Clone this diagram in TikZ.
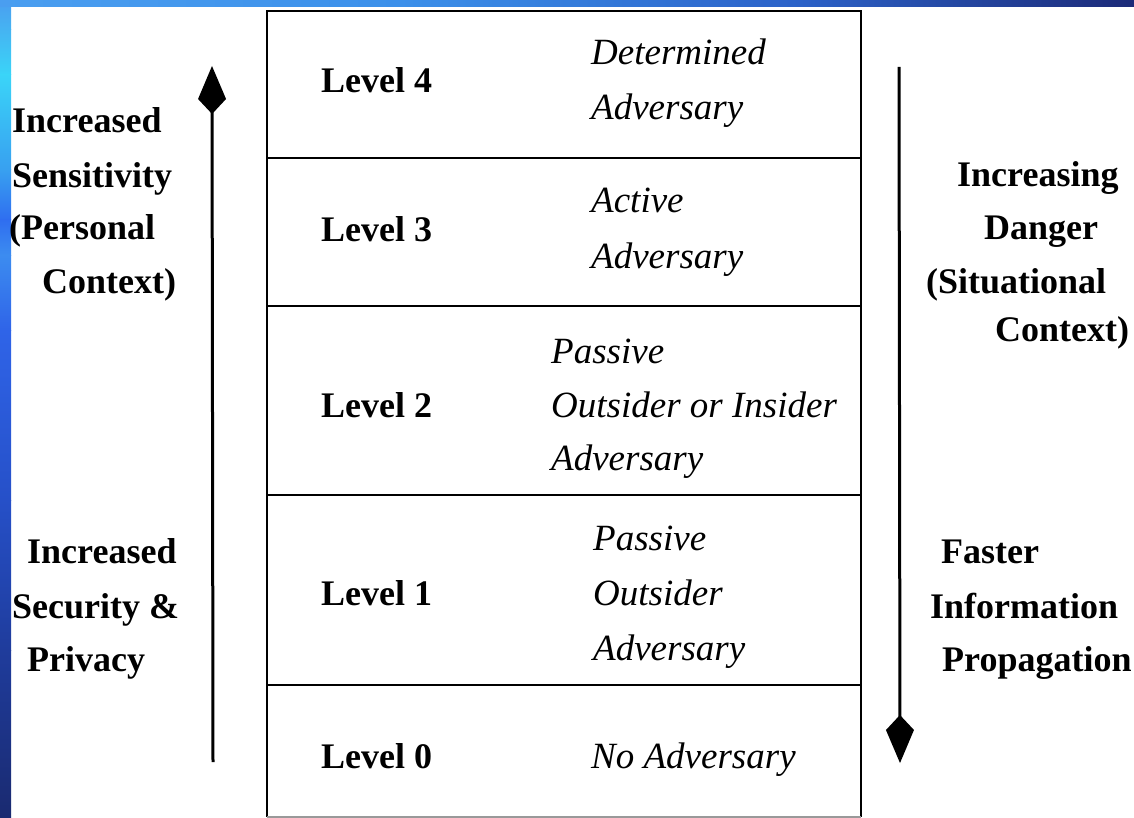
\documentclass[tikz,border=0pt]{standalone}
\usepackage{fontspec}
\setmainfont{Liberation Serif}
\usetikzlibrary{arrows.meta}
\definecolor{sA}{HTML}{4A9EF0}
\definecolor{sB}{HTML}{45B4F2}
\definecolor{sC}{HTML}{3AD4F8}
\definecolor{sD}{HTML}{38A0F0}
\definecolor{sE}{HTML}{2F6EF0}
\definecolor{sF}{HTML}{3C8CF0}
\definecolor{sG}{HTML}{2F64E8}
\definecolor{sH}{HTML}{2650C8}
\definecolor{sI}{HTML}{1F3C9C}
\definecolor{sJ}{HTML}{1A2A70}
\definecolor{tA}{HTML}{4A9EF0}
\definecolor{tB}{HTML}{3C90EA}
\definecolor{tC}{HTML}{2C62C8}
\definecolor{tD}{HTML}{1C2A78}
\begin{document}
\begin{tikzpicture}[x=1pt,y=-1pt,
  lab/.style={font=\fontsize{36}{40}\selectfont\bfseries, anchor=base west, inner sep=0pt},
  adv/.style={font=\fontsize{37}{40}\selectfont\itshape, anchor=base west, inner sep=0pt},
  grid/.style={line width=2.5pt, black},
  trend/.style={line width=3pt, -{Kite[length=48pt,width=28pt,inset=15pt]}}]
\useasboundingbox (0,0) rectangle (1134,818);
% blue frame
\shade[top color=sA, bottom color=sB] (0,0) rectangle (11,30);
\shade[top color=sB, bottom color=sC] (0,30) rectangle (11,75);
\shade[top color=sC, bottom color=sD] (0,75) rectangle (11,170);
\shade[top color=sD, bottom color=sE] (0,170) rectangle (11,220);
\shade[top color=sE, bottom color=sF] (0,220) rectangle (11,255);
\shade[top color=sF, bottom color=sG] (0,255) rectangle (11,330);
\shade[top color=sG, bottom color=sH] (0,330) rectangle (11,500);
\shade[top color=sH, bottom color=sI] (0,500) rectangle (11,650);
\shade[top color=sI, bottom color=sJ] (0,650) rectangle (11,818);
\shade[left color=tA, right color=tB] (0,0) rectangle (400,7);
\shade[left color=tB, right color=tC] (400,0) rectangle (800,7);
\shade[left color=tC, right color=tD] (800,0) rectangle (1134,7);
% table
\draw[grid] (267,817) -- (267,11) -- (861,11) -- (861,817);
\draw[line width=1.5pt, black!40] (267,817) -- (861,817);
\foreach \yy in {158,306,495,685} \draw[grid] (267,\yy) -- (861,\yy);
% levels
\node[lab] (l4) at (321,93) {Level 4};
\node[lab] (l3) at (321,241) {Level 3};
\node[lab] (l2) at (321,417) {Level 2};
\node[lab] (l1) at (321,605) {Level 1};
\node[lab] (l0) at (321,768) {Level 0};
% adversaries
\node[adv] (d4a) at (591,65) {Determined};
\node[adv] (d4b) at (591,120) {Adversary};
\node[adv] (d3a) at (591,213) {Active};
\node[adv] (d3b) at (591,268) {Adversary};
\node[adv] (d2a) at (551,363) {Passive};
\node[adv] (d2b) at (551,417) {Outsider or Insider};
\node[adv] (d2c) at (551,470) {Adversary};
\node[adv] (d1a) at (593,550) {Passive};
\node[adv] (d1b) at (593,605) {Outsider};
\node[adv] (d1c) at (593,660) {Adversary};
\node[adv] (d0) at (591,768) {No Adversary};
% left labels
\node[lab] (pl1) at (12,133) {Increased};
\node[lab] (pl2) at (12,188) {Sensitivity};
\node[lab] (pl3) at (9,240) {(Personal};
\node[lab] (pl4) at (42,293) {Context)};
\node[lab] (sl1) at (27,563) {Increased};
\node[lab] (sl2) at (12,618) {Security \&};
\node[lab] (sl3) at (27,671) {Privacy};
% right labels
\node[lab] (dr1) at (957,187) {Increasing};
\node[lab] (dr2) at (984,240) {Danger};
\node[lab] (dr3) at (926,293) {(Situational};
\node[lab] (dr4) at (995,341) {Context)};
\node[lab] (fr1) at (941,563) {Faster};
\node[lab] (fr2) at (930,618) {Information};
\node[lab] (fr3) at (942,671) {Propagation};
% arrows
\coordinate (la0) at (213,762);
\coordinate (la1) at (212,66);
\coordinate (ra0) at (899,67);
\coordinate (ra1) at (900,763);
\draw[trend] (la0) -- (la1);
\draw[trend] (ra0) -- (ra1);
\end{tikzpicture}
\end{document}
